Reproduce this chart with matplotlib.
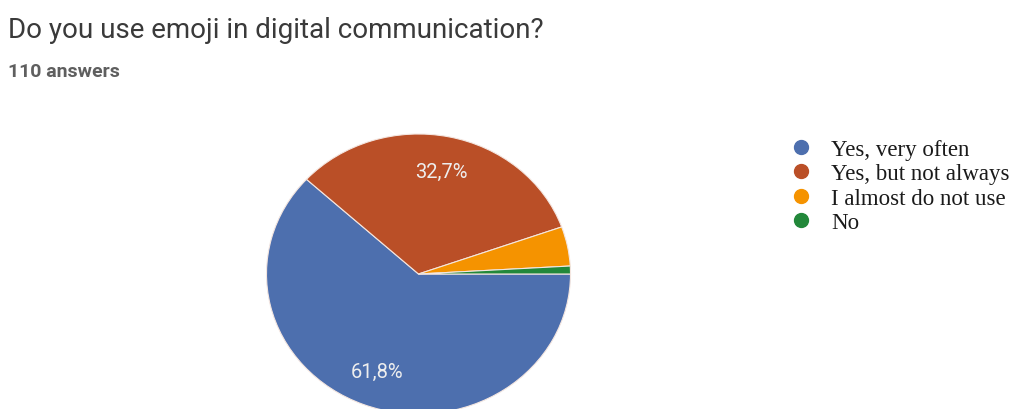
import matplotlib.pyplot as plt
from matplotlib.lines import Line2D

# data
labels = ["Yes, very often", "Yes, but not always", "I almost do not use", "No"]
counts = [68, 36, 5, 1]
colors = ["#4d6fae", "#ba4f27", "#f59300", "#22883a"]
title = "Do you use emoji in digital communication?"
subtitle = "110 answers"

W, H = 1018, 410
fig = plt.figure(figsize=(W / 100, H / 100), dpi=100)

# pie box in pixels (the source screenshot is slightly stretched sideways)
cx, cy, rx, ry = 418.5, 275, 152, 140
ax = fig.add_axes([(cx - rx) / W, (H - cy - ry) / H, 2 * rx / W, 2 * ry / H])


def pct_label(p):
    return f"{p:.1f}%".replace(".", ",") if p > 10 else ""


wedges, texts, autotexts = ax.pie(
    counts, colors=colors, startangle=0, counterclock=False,
    autopct=pct_label, pctdistance=0.75,
    wedgeprops=dict(edgecolor="#f4e6e0", linewidth=0.8),
    textprops=dict(color="#eeeeee", fontsize=14.5, family="Roboto"))
ax.set_aspect("auto")
ax.set_xlim(-1, 1)
ax.set_ylim(-1, 1)

fig.text(8 / W, 1 - 31 / H, title, fontsize=20, family="Roboto",
         color="#3a3a3a", va="center", ha="left")
fig.text(8 / W, 1 - 72 / H, subtitle, fontsize=14, family="Roboto",
         weight="bold", color="#5f5f5f", va="center", ha="left")

handles = [Line2D([], [], marker="o", linestyle="", markersize=10,
                  markerfacecolor=c, markeredgecolor=c) for c in colors]
fig.legend(handles, labels, loc="upper left",
           bbox_to_anchor=(790 / W, 1 - 140 / H), frameon=False,
           prop=dict(family="Liberation Serif", size=16.5),
           labelcolor="#1a1a1a",
           handletextpad=0.8, labelspacing=0.14, handlelength=1.0,
           borderaxespad=0, borderpad=0)

fig.savefig("out.png", dpi=100)
